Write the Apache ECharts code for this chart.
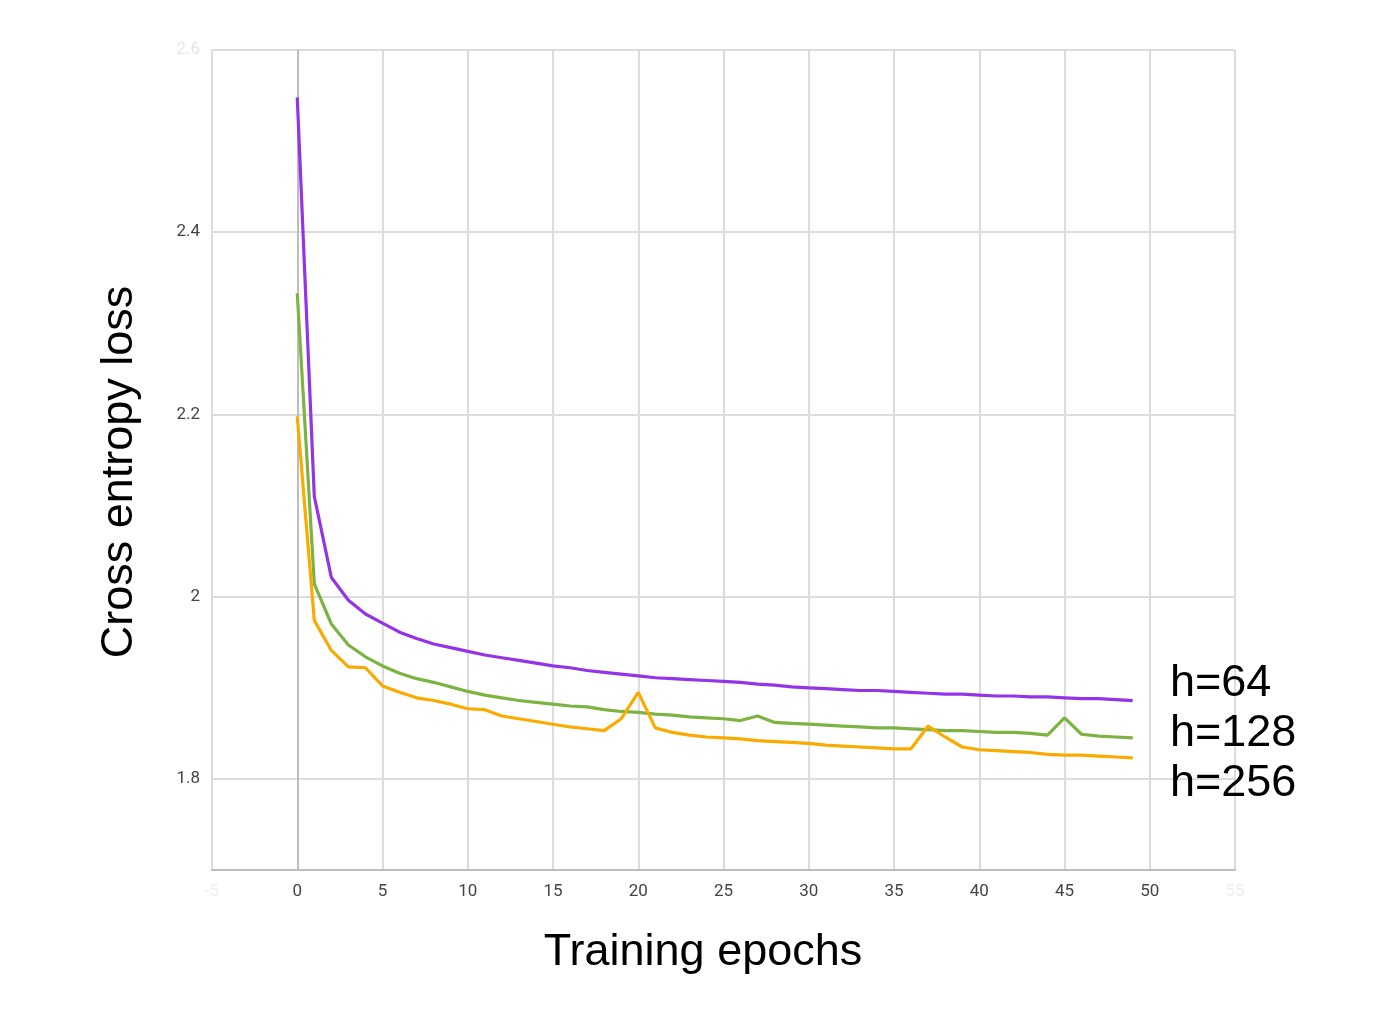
<!DOCTYPE html>
<html>
<head>
<meta charset="utf-8">
<script src="https://cdn.jsdelivr.net/npm/echarts@6/dist/echarts.min.js"></script>
<style>
  html, body { margin: 0; padding: 0; background: #fff; }
  #main { width: 1398px; height: 1014px; }
</style>
</head>
<body>
<div id="main"></div>
<script>
// epochs 0..49
const epochs = [];
for (let i = 0; i < 50; i++) epochs.push(i);

const seriesNames = ["h=64", "h=128", "h=256"];

// h=64
const lossH64 = [
  2.548, 2.110, 2.021, 1.996, 1.981, 1.971, 1.961, 1.954, 1.948, 1.944,
  1.940, 1.936, 1.933, 1.930, 1.927, 1.924, 1.922, 1.919, 1.917, 1.915,
  1.913, 1.911, 1.910, 1.909, 1.908, 1.907, 1.906, 1.904, 1.903, 1.901,
  1.900, 1.899, 1.898, 1.897, 1.897, 1.896, 1.895, 1.894, 1.893, 1.893,
  1.892, 1.891, 1.891, 1.890, 1.890, 1.889, 1.888, 1.888, 1.887, 1.886,
];
// h=128
const lossH128 = [
  2.333, 2.014, 1.970, 1.947, 1.934, 1.924, 1.916, 1.910, 1.906, 1.901,
  1.896, 1.892, 1.889, 1.886, 1.884, 1.882, 1.880, 1.879, 1.876, 1.874,
  1.873, 1.871, 1.870, 1.868, 1.867, 1.866, 1.864, 1.869, 1.862, 1.861,
  1.860, 1.859, 1.858, 1.857, 1.856, 1.856, 1.855, 1.854, 1.853, 1.853,
  1.852, 1.851, 1.851, 1.850, 1.848, 1.867, 1.849, 1.847, 1.846, 1.845,
];
// h=256
const lossH256 = [
  2.198, 1.974, 1.941, 1.923, 1.922, 1.902, 1.895, 1.889, 1.886, 1.882,
  1.877, 1.876, 1.869, 1.866, 1.863, 1.860, 1.857, 1.855, 1.853, 1.866,
  1.895, 1.856, 1.851, 1.848, 1.846, 1.845, 1.844, 1.842, 1.841, 1.840,
  1.839, 1.837, 1.836, 1.835, 1.834, 1.833, 1.833, 1.858, 1.846, 1.835,
  1.832, 1.831, 1.830, 1.829, 1.827, 1.826, 1.826, 1.825, 1.824, 1.823,
];

const xTicks = [-5, 0, 5, 10, 15, 20, 25, 30, 35, 40, 45, 50, 55];
const yLabelTicks = [1.8, 2, 2.2, 2.4, 2.6];

const colors = ["#9334e6", "#7cb342", "#f9ab00"];

function pairs(values) {
  return values.map((v, i) => [epochs[i], v]);
}

var chartDom = document.getElementById("main");
var myChart = echarts.init(chartDom);

// split line colours: zero line is darker
const xSplitColors = xTicks.map((t) => (t === 0 ? "#9e9e9e" : "#dcdcdc"));

var option = {
  animation: false,
  grid: { left: 212, right: 163, top: 50, bottom: 144 },
  xAxis: {
    type: "value",
    min: -5,
    max: 55,
    interval: 5,
    axisLine: { show: true, lineStyle: { color: "#bdbdbd", width: 2 } },
    axisTick: { show: false },
    axisLabel: {
      margin: 13,
      fontFamily: "Roboto",
      fontSize: 17,
      color: (v) => (v < 0 || v > 50 ? "#eeeeee" : "#444444"),
    },
    splitLine: { show: true, lineStyle: { color: xSplitColors, width: 2 } },
  },
  yAxis: {
    type: "value",
    min: 1.7,
    max: 2.6,
    interval: 0.1,
    axisLine: { show: true, lineStyle: { color: "#bdbdbd", width: 2 } },
    axisTick: { show: false },
    axisLabel: {
      margin: 12,
      fontFamily: "Roboto",
      fontSize: 17,
      showMinLabel: true,
      showMaxLabel: true,
      formatter: (v) => {
        const hit = yLabelTicks.find((t) => Math.abs(t - v) < 1e-6);
        return hit === undefined ? "" : String(hit);
      },
      color: (v) => (v > 2.5 ? "#e6e6e6" : "#444444"),
    },
    splitLine: {
      show: true,
      lineStyle: { color: ["rgba(0,0,0,0)", "#dcdcdc"], width: 2 },
    },
  },
  series: [
    { name: seriesNames[0], data: pairs(lossH64), color: colors[0] },
    { name: seriesNames[1], data: pairs(lossH128), color: colors[1] },
    { name: seriesNames[2], data: pairs(lossH256), color: colors[2] },
  ].map((s) => ({
    type: "line",
    name: s.name,
    data: s.data,
    showSymbol: false,
    lineStyle: { color: s.color, width: 3.2 },
    itemStyle: { color: s.color },
  })),
  graphic: [
    {
      type: "text",
      z: 100,
      x: 120,
      y: 472,
      rotation: Math.PI / 2,
      style: {
        text: "Cross entropy loss",
        font: "45px 'Liberation Sans', Arial, sans-serif",
        fill: "#000",
        align: "center",
        verticalAlign: "middle",
      },
    },
    {
      type: "text",
      z: 100,
      x: 703,
      y: 953,
      style: {
        text: "Training epochs",
        font: "45px 'Liberation Sans', Arial, sans-serif",
        fill: "#000",
        align: "center",
        verticalAlign: "middle",
      },
    },
  ].concat(
    seriesNames.map((n, i) => ({
      type: "text",
      z: 100,
      left: 1170,
      top: 661 + i * 50,
      style: {
        text: n,
        font: "45px 'Liberation Sans', Arial, sans-serif",
        fill: "#000",
      },
    }))
  ),
};

option && myChart.setOption(option);
</script>
</body>
</html>
